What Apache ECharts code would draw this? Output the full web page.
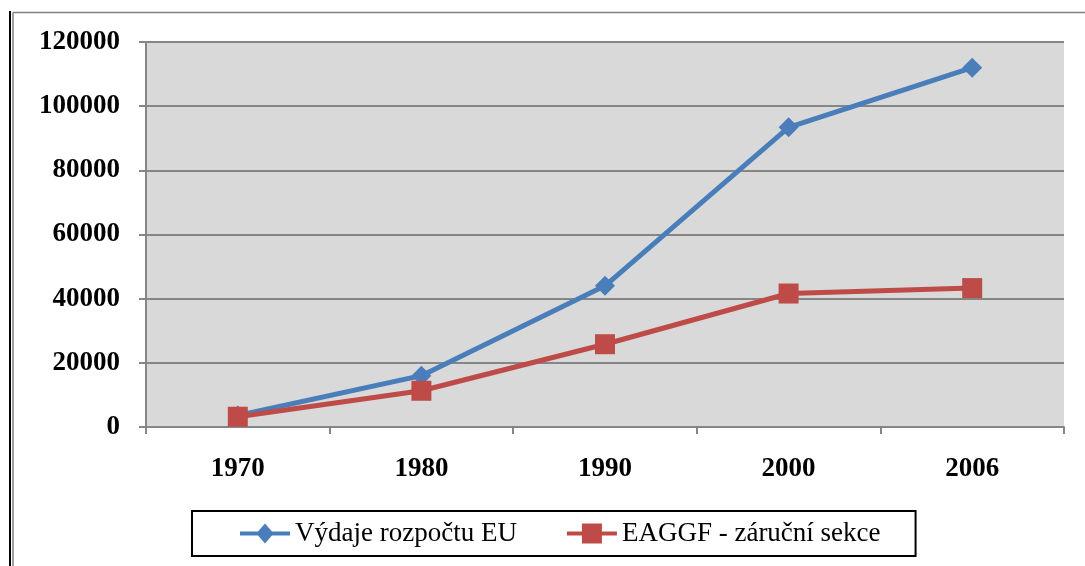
<!DOCTYPE html>
<html>
<head>
<meta charset="utf-8">
<script src="https://cdn.jsdelivr.net/npm/echarts@6/dist/echarts.min.js"></script>
<style>
  html, body { margin: 0; padding: 0; background: #fff; }
  #chart { width: 1085px; height: 566px; }
</style>
</head>
<body>
<div id="chart"></div>
<script>
// roky na ose x
var years = ['1970', '1980', '1990', '2000', '2006']
// Výdaje rozpočtu EU
var budgetData = [3600, 16000, 44000, 93400, 112000]
// EAGGF - záruční sekce
var eaggfData = [3200, 11300, 25800, 41600, 43300]
var seriesNames = ['Výdaje rozpočtu EU', 'EAGGF - záruční sekce']

var chart = echarts.init(document.getElementById('chart'))

chart.setOption({
  backgroundColor: '#ffffff',
  animation: false,
  grid: {
    left: 146,
    right: 21,
    top: 42,
    bottom: 139,
    show: true,
    backgroundColor: '#d9d9d9',
    borderWidth: 0
  },
  // rámeček kolem grafu
  graphic: [
    { type: 'line', shape: { x1: 10, y1: 11, x2: 10, y2: 566 }, style: { stroke: '#000', lineWidth: 2 } },
    { type: 'line', shape: { x1: 13, y1: 12.5, x2: 13, y2: 566 }, style: { stroke: '#808080', lineWidth: 1.5 } },
    { type: 'line', shape: { x1: 13, y1: 12.5, x2: 1085, y2: 12.5 }, style: { stroke: '#808080', lineWidth: 1.5 } }
  ],
  legend: {
    data: [
      { name: seriesNames[0], icon: 'path://M0,8 L18,8 L25,0 L32,8 L50,8 L50,12 L32,12 L25,20 L18,12 L0,12 Z' },
      { name: seriesNames[1], icon: 'path://M0,8 L15,8 L15,0 L35,0 L35,8 L50,8 L50,12 L35,12 L35,20 L15,20 L15,12 L0,12 Z' }
    ],
    left: 192,
    top: 511,
    padding: [9, 35, 9, 48],
    itemWidth: 50,
    itemHeight: 20,
    itemGap: 50,
    borderColor: '#000',
    borderWidth: 2,
    textStyle: {
      fontFamily: 'Liberation Serif',
      fontSize: 27,
      color: '#000'
    }
  },
  xAxis: {
    type: 'category',
    data: years,
    boundaryGap: true,
    axisLine: { lineStyle: { color: '#868686', width: 2 } },
    axisTick: { show: true, length: 7, lineStyle: { color: '#868686', width: 2 } },
    axisLabel: {
      margin: 29,
      fontFamily: 'Liberation Serif',
      fontWeight: 'bold',
      fontSize: 27,
      color: '#000'
    }
  },
  yAxis: {
    type: 'value',
    min: 0,
    max: 120000,
    interval: 20000,
    axisLine: { show: true, lineStyle: { color: '#868686', width: 2 } },
    axisTick: { show: true, length: 7, lineStyle: { color: '#868686', width: 2 } },
    axisLabel: {
      margin: 26,
      fontFamily: 'Liberation Serif',
      fontWeight: 'bold',
      fontSize: 27,
      color: '#000',
      formatter: function (v) { return String(v) }
    },
    splitLine: { lineStyle: { color: '#868686', width: 2 } }
  },
  series: [
    {
      name: seriesNames[0],
      type: 'line',
      data: budgetData,
      symbol: 'diamond',
      symbolSize: 20,
      itemStyle: { color: '#4a7ebb' },
      lineStyle: { color: '#4a7ebb', width: 5 }
    },
    {
      name: seriesNames[1],
      type: 'line',
      data: eaggfData,
      symbol: 'rect',
      symbolSize: 20,
      itemStyle: { color: '#be4b48' },
      lineStyle: { color: '#be4b48', width: 5 }
    }
  ]
})
</script>
</body>
</html>
